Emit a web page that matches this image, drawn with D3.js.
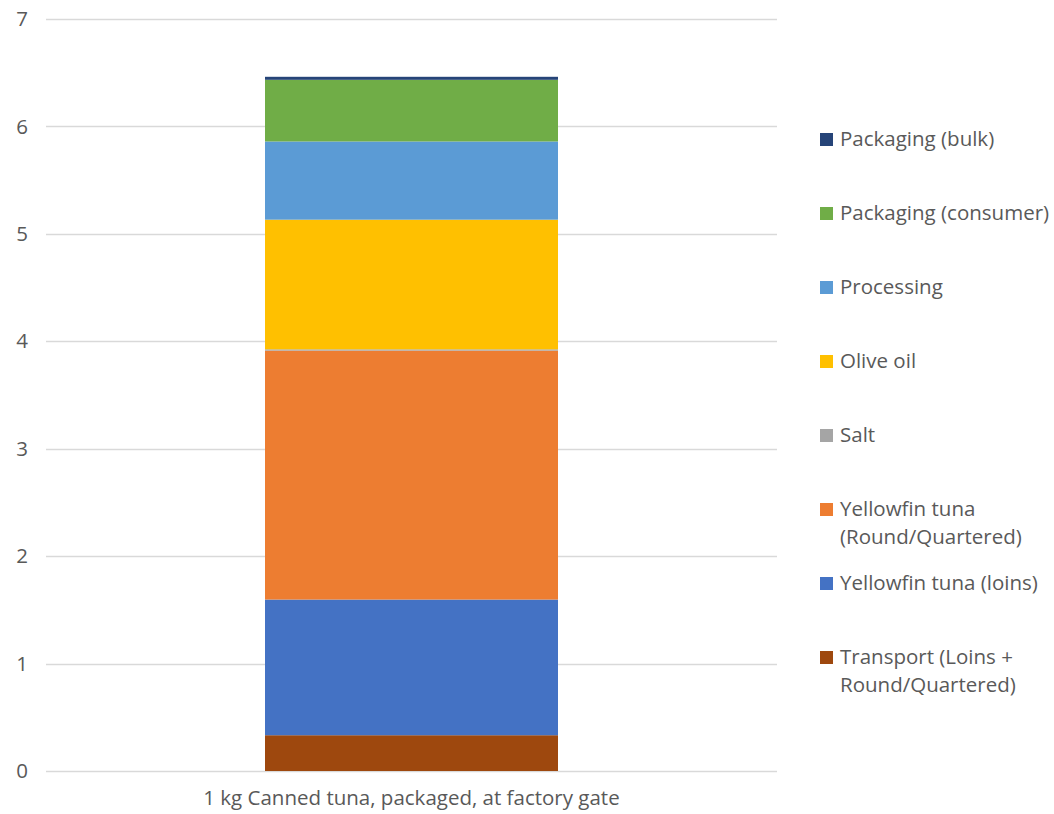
<!DOCTYPE html>
<meta charset="utf-8">
<script src="https://d3js.org/d3.v7.min.js"></script>
<style>
  body { margin: 0; background: #fff; }
  text { font-family: "Open Sans", "Noto Sans", sans-serif; fill: #595959; }
</style>
<div id="my_dataviz"></div>
<script>

// data, bottom to top
var categories = ["1 kg Canned tuna, packaged, at factory gate"];
var seriesNames = [
  "Transport (Loins + Round/Quartered)",
  "Yellowfin tuna (loins)",
  "Yellowfin tuna (Round/Quartered)",
  "Salt",
  "Olive oil",
  "Processing",
  "Packaging (consumer)",
  "Packaging (bulk)"
];
var seriesValues = [0.333, 1.263, 2.317, 0.012, 1.207, 0.728, 0.574, 0.028];
var seriesColors = ["#9E480E", "#4472C4", "#ED7D31", "#A5A5A5", "#FFC000", "#5B9BD5", "#70AD47", "#264478"];
// legend labels, already wrapped the way the original shows them
var legendLines = [
  ["Transport (Loins +", "Round/Quartered)"],
  ["Yellowfin tuna (loins)"],
  ["Yellowfin tuna", "(Round/Quartered)"],
  ["Salt"],
  ["Olive oil"],
  ["Processing"],
  ["Packaging (consumer)"],
  ["Packaging (bulk)"]
];
var yTicks = [0, 1, 2, 3, 4, 5, 6, 7];

var W = 1054, H = 814;
var fontSize = "20.5px";
var margin = {top: 19, right: 277, bottom: 43, left: 46},
    width = W - margin.left - margin.right,
    height = H - margin.top - margin.bottom;

var svg = d3.select("#my_dataviz")
  .append("svg")
    .attr("width", W)
    .attr("height", H);

var g = svg.append("g")
    .attr("transform", "translate(" + margin.left + "," + margin.top + ")");

var x = d3.scaleBand()
  .domain(categories)
  .range([0, width])
  .paddingInner(0)
  .paddingOuter(0.7475);

var y = d3.scaleLinear()
  .domain([0, 7])
  .range([height, 0]);

// gridlines
g.append("g")
  .selectAll("line")
  .data(yTicks)
  .enter()
  .append("line")
    .attr("x1", 0)
    .attr("x2", width)
    .attr("y1", function(d) { return Math.round(y(d)) + 0.5 })
    .attr("y2", function(d) { return Math.round(y(d)) + 0.5 })
    .attr("stroke", "#D9D9D9")
    .attr("stroke-width", 1.3);

// y tick labels
g.append("g")
  .selectAll("text")
  .data(yTicks)
  .enter()
  .append("text")
    .attr("x", -24)
    .attr("y", function(d) { return y(d) })
    .attr("dy", "0.35em")
    .attr("text-anchor", "middle")
    .style("font-size", fontSize)
    .text(function(d) { return d });

// stack
var row = {cat: categories[0]};
seriesNames.forEach(function(s, i) { row[s] = seriesValues[i] });
var stacked = d3.stack().keys(seriesNames)([row]);

g.append("g")
  .selectAll("g")
  .data(stacked)
  .enter()
  .append("g")
    .attr("fill", function(d, i) { return seriesColors[i] })
  .selectAll("rect")
  .data(function(d) { return d })
  .enter()
  .append("rect")
    .attr("x", function(d) { return x(d.data.cat) })
    .attr("width", x.bandwidth())
    .attr("y", function(d) { return y(d[1]) })
    .attr("height", function(d) { return y(d[0]) - y(d[1]) });

// x label
g.append("g")
  .selectAll("text")
  .data(categories)
  .enter()
  .append("text")
    .attr("x", function(d) { return x(d) + x.bandwidth() / 2 })
    .attr("y", height + 27)
    .attr("dy", "0.35em")
    .attr("text-anchor", "middle")
    .style("font-size", fontSize)
    .text(function(d) { return d });

// legend, top entry first
var legendX = 820, legendTop = 139, legendStep = 74, lineH = 28;
var order = d3.range(seriesNames.length).reverse();
var legend = svg.append("g")
  .selectAll("g")
  .data(order)
  .enter()
  .append("g")
    .attr("transform", function(d, i) { return "translate(" + legendX + "," + (legendTop + i * legendStep) + ")" });

legend.append("rect")
  .attr("x", 0)
  .attr("y", -6)
  .attr("width", 13)
  .attr("height", 13)
  .attr("fill", function(d) { return seriesColors[d] });

legend.append("text")
  .style("font-size", fontSize)
  .selectAll("tspan")
  .data(function(d) { return legendLines[d] })
  .enter()
  .append("tspan")
    .attr("x", 20)
    .attr("y", function(d, j) { return j * lineH })
    .attr("dy", "0.35em")
    .text(function(d) { return d });

</script>
